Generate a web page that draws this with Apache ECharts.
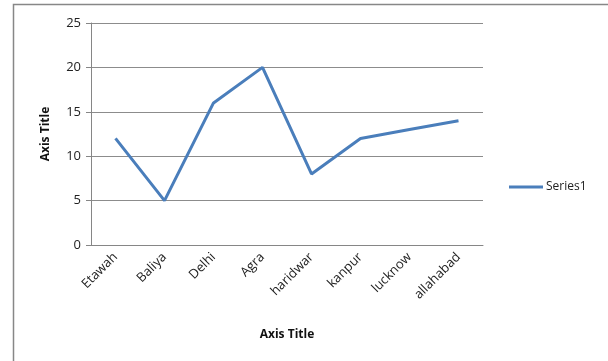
<!DOCTYPE html>
<html lang="en">
  <head>
    <meta charset="UTF-8" />
    <title>Series1</title>
    <script src="https://cdn.jsdelivr.net/npm/echarts@6/dist/echarts.min.js"></script>
    <style>
      html, body { margin: 0; padding: 0; background: #fff; }
    </style>
  </head>
  <body>
    <div id="chart" style="width: 608px; height: 361px"></div>
  </body>
  <script>
    // city names on the category axis
    const cities = ["Etawah", "Baliya", "Delhi", "Agra", "haridwar", "kanpur", "lucknow", "allahabad"];
    // Series1 values
    const series1 = [12, 5, 16, 20, 8, 12, 13, 14];
    const yTicks = [0, 5, 10, 15, 20, 25];

    const font = "Open Sans";
    const chart = echarts.init(document.getElementById("chart"));
    chart.setOption({
      backgroundColor: "#fff",
      animation: false,
      textStyle: { fontFamily: font },
      graphic: [
        {
          type: "rect",
          shape: { x: 13.5, y: 4.5, width: 620, height: 400 },
          style: { fill: "none", stroke: "#878787", lineWidth: 1.5 },
          silent: true,
        },
      ],
      grid: { left: 91, right: 125, top: 23, bottom: 116 },
      legend: {
        data: ["Series1"],
        left: 504,
        top: 176,
        itemWidth: 34,
        itemHeight: 3,
        itemGap: 2,
        icon: "rect",
        textStyle: { fontFamily: font, fontSize: 12, color: "#222", padding: [0, 0, 0, -2] },
      },
      xAxis: {
        type: "category",
        data: cities,
        boundaryGap: true,
        name: "Axis Title",
        nameLocation: "middle",
        nameGap: 84,
        nameTextStyle: { fontFamily: font, fontSize: 12, fontWeight: "bold", color: "#111" },
        axisLine: { lineStyle: { color: "#868686", width: 1 } },
        axisTick: { show: false },
        axisLabel: {
          rotate: 45,
          interval: 0,
          margin: 10,
          fontSize: 13,
          color: "#222",
          fontFamily: font,
        },
        splitLine: { show: false },
      },
      yAxis: {
        type: "value",
        min: yTicks[0],
        max: yTicks[yTicks.length - 1],
        interval: 5,
        name: "Axis Title",
        nameLocation: "middle",
        nameGap: 39,
        nameRotate: 90,
        nameTextStyle: { fontFamily: font, fontSize: 12, fontWeight: "bold", color: "#111" },
        axisLine: { show: true, lineStyle: { color: "#868686", width: 1 } },
        axisTick: { show: true, inside: false, length: 5, lineStyle: { color: "#868686" } },
        axisLabel: { fontSize: 13, color: "#222", margin: 10, fontFamily: font },
        splitLine: { lineStyle: { color: "#8c8c8c", width: 1 } },
      },
      series: [
        {
          name: "Series1",
          type: "line",
          data: series1,
          symbol: "none",
          color: "#4a7ebb",
          lineStyle: { color: "#4a7ebb", width: 3 },
        },
      ],
    });
  </script>
</html>
